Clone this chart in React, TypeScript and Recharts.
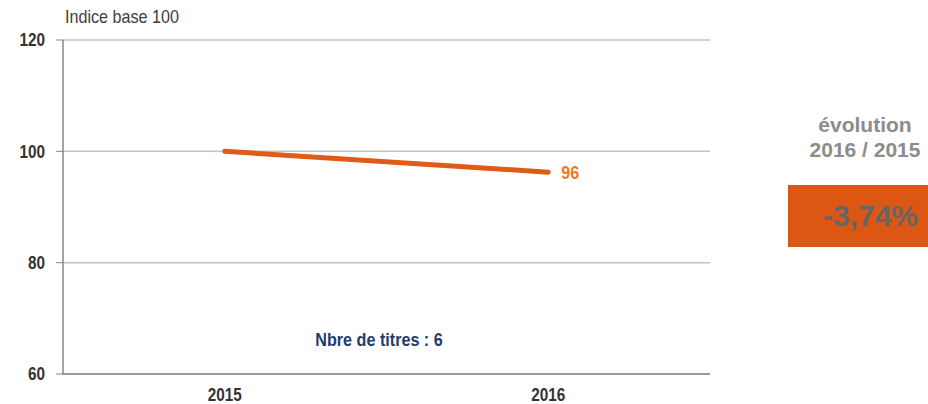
import React from "react";
import { LineChart, Line, XAxis, YAxis, CartesianGrid } from "recharts";

const years = ["2015", "2016"];
const indexValues = [100, 96.26];
const yTicks = [60, 80, 100, 120];
const boundaryTicks = [0, 1, 2];
const axisTitle = "Indice base 100";
const countNote = "Nbre de titres : 6";
const evolutionTitle = ["évolution", "2016 / 2015"];
const evolutionValue = "-3,74%";

const data = years.map((y, i) => ({ year: y, value: indexValues[i] }));

const SANS = "'Liberation Sans', Arial, sans-serif";
const SQUEEZE = 0.85;

const NarrowTick = (props: any) => {
  const { x, y, payload, textAnchor, dy } = props;
  return (
    <g transform={`translate(${x},${y}) scale(${SQUEEZE},1)`}>
      <text x={0} y={0} dy={dy ?? "0.355em"} textAnchor={textAnchor} fill="#333" fontFamily={SANS} fontWeight="bold" fontSize={18}>
        {payload.value}
      </text>
    </g>
  );
};

const EndLabel = (props: any) => {
  const { x, y, index, value } = props;
  if (index !== data.length - 1) return null;
  return (
    <g transform={`translate(${x + 13},${y}) scale(${SQUEEZE},1)`}>
      <text x={0} y={0} dy={7} fill="#F07A1E" fontFamily={SANS} fontWeight="bold" fontSize={19}>
        {Math.round(value)}
      </text>
    </g>
  );
};

export default function App() {
  return (
    <div style={{ position: "absolute", left: 0, top: 0, width: 928, height: 404, background: "#fff", overflow: "hidden" }}>
      <LineChart width={928} height={404} data={data} margin={{ top: 40, right: 218, bottom: 0, left: 0 }}>
        <CartesianGrid vertical={false} stroke="#c4c4c4" strokeWidth={1.5} />
        <XAxis
          xAxisId="a0"
          type="number"
          domain={[0, 2]}
          ticks={boundaryTicks}
          tick={false}
          mirror
          tickSize={7}
          height={1}
          axisLine={false}
          tickLine={{ stroke: "#a8a8a8", strokeWidth: 2 }}
        />
        <XAxis
          xAxisId="a"
          type="number"
          domain={[0, 2]}
          ticks={boundaryTicks}
          tick={false}
          tickSize={7}
          height={1}
          axisLine={{ stroke: "#858585", strokeWidth: 1.5 }}
          tickLine={{ stroke: "#a8a8a8", strokeWidth: 2 }}
        />
        <XAxis
          xAxisId="b"
          dataKey="year"
          type="category"
          scale="band"
          axisLine={false}
          tickLine={false}
          tickSize={8}
          tickMargin={5}
          height={29}
          tick={(p: any) => <NarrowTick {...p} dy="0.71em" textAnchor="middle" />}
        />
        <YAxis
          domain={[60, 120]}
          ticks={yTicks}
          width={63}
          tickSize={7}
          tickMargin={11}
          axisLine={{ stroke: "#858585", strokeWidth: 1.5 }}
          tickLine={{ stroke: "#858585" }}
          tick={(p: any) => <NarrowTick {...p} dy="0.355em" textAnchor="end" />}
        />
        <Line
          xAxisId="b"
          dataKey="value"
          stroke="#E05A18"
          strokeWidth={5}
          strokeLinecap="round"
          dot={false}
          isAnimationActive={false}
          label={<EndLabel />}
        />
      </LineChart>
      <div style={{ position: "absolute", left: 65, top: 6, fontFamily: SANS, fontSize: 19, color: "#404040", whiteSpace: "nowrap", transform: `scaleX(${SQUEEZE})`, transformOrigin: "left center" }}>
        {axisTitle}
      </div>
      <div style={{ position: "absolute", left: 229, width: 300, top: 329, textAlign: "center", fontFamily: SANS, fontWeight: "bold", fontSize: 19, color: "#1F3C6E", whiteSpace: "nowrap", transform: `scaleX(${SQUEEZE})`, transformOrigin: "center center" }}>
        {countNote}
      </div>
      <div style={{ position: "absolute", left: 790, width: 150, top: 112, textAlign: "center", fontFamily: SANS, fontWeight: "bold", fontSize: 21, lineHeight: "25px", color: "#8C8C8C" }}>
        <div>{evolutionTitle[0]}</div>
        <div>{evolutionTitle[1]}</div>
      </div>
      <div style={{ position: "absolute", left: 788, top: 185, width: 140, height: 62, background: "#DD5714", display: "flex", alignItems: "center", justifyContent: "flex-end", paddingRight: 10, boxSizing: "border-box", fontFamily: SANS, fontWeight: "bold", fontSize: 30, color: "#666" }}>
        {evolutionValue}
      </div>
    </div>
  );
}
